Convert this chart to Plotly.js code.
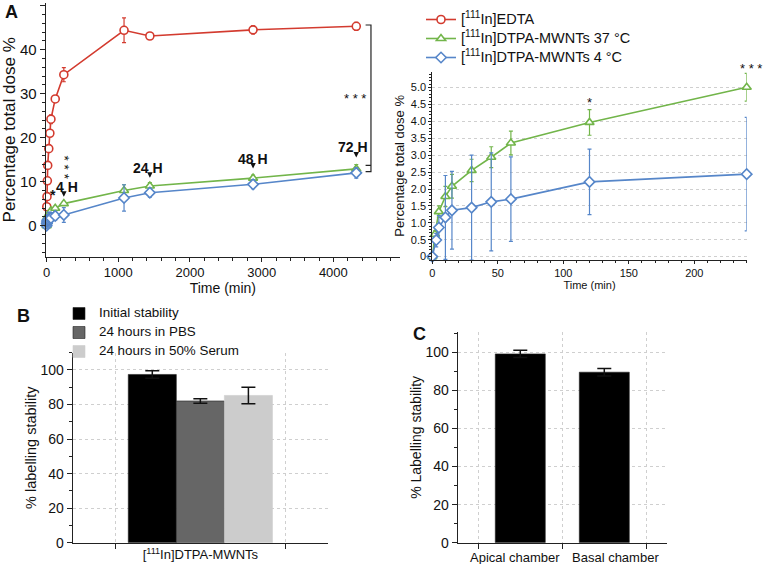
<!DOCTYPE html>
<html><head><meta charset="utf-8">
<script src="https://cdn.plot.ly/plotly-3.0.1.min.js"></script>
<style>html,body{margin:0;padding:0;background:#fff}</style>
</head><body>
<div id="chart" style="width:764px;height:564px"></div>
<script>
// ---------- Panel A data ----------
const edtaTime = [2, 5, 10, 15, 30, 45, 60, 120, 240, 1080, 1440, 2880, 4320];
const edtaVal  = [4.3, 6.6, 10.2, 13.7, 17.5, 21.0, 24.2, 28.8, 34.3, 44.4, 43.1, 44.5, 45.3];
const edtaErr  = [0.4, 0.5, 0.5, 0.5, 0.6, 0.6, 1.0, 0.6, 1.6, 2.8, 0.6, 0.9, 0.9];

const mwnt37Time = [0, 2, 5, 10, 15, 30, 45, 60, 120, 240, 1080, 1440, 2880, 4320];
const mwnt37Val  = [0, 0.66, 1.33, 1.78, 2.08, 2.55, 2.94, 3.36, 3.97, 5.01, 8.0, 9.0, 10.8, 12.9];
const mwnt37Err  = [0, 0.10, 0.17, 0.30, 0.35, 0.33, 0.31, 0.35, 0.38, 0.41, 1.3, 0.8, 0.7, 1.0];

const mwnt4Time = [0, 3, 5, 10, 15, 30, 45, 60, 120, 240, 1080, 1440, 2880, 4320];
const mwnt4Val  = [0, 0.49, 0.86, 1.16, 1.37, 1.45, 1.62, 1.70, 2.21, 2.44, 6.3, 7.5, 9.4, 12.0];
const mwnt4Err  = [0, 0.20, 0.35, 1.24, 1.15, 1.55, 1.45, 1.25, 0.97, 1.68, 3.0, 1.0, 1.0, 1.2];

const seriesNames = ['[<sup>111</sup>In]EDTA', '[<sup>111</sup>In]DTPA-MWNTs 37 °C', '[<sup>111</sup>In]DTPA-MWNTs 4 °C'];
const insetMaxTime = 240;
const insetTickVals = [0, 0.5, 1.0, 1.5, 2.0, 2.5, 3.0, 3.5, 4.0, 4.5, 5.0];
const insetTickText = ['0', '0.5', '1.0', '1.5', '2.0', '2.5', '3.0', '3.5', '4.0', '4.5', '5.0'];

// ---------- Panel B data ----------
const bCategories = ['[<sup>111</sup>In]DTPA-MWNTs'];
const bSeries = ['Initial stability', '24 hours in PBS', '24 hours in 50% Serum'];
const bValues = [97.4, 82.05, 85.25];
const bErrors = [2.2, 1.35, 4.75];

// ---------- Panel C data ----------
const cCategories = ['Apical chamber', 'Basal chamber'];
const cValues = [99.1, 89.5];
const cErrors = [1.9, 2.0];

// ---------- styles ----------
const FONT = 'Liberation Sans, Arial, Helvetica, sans-serif';
const RED = '#d33b2f', GREEN = '#72b54a', BLUE = '#5686c9';
const bColors = ['#000000', '#666666', '#cccccc'];
const cLabelShift = [-5, 11];
const W = 764, H = 564;
const fx = p => p / W;
const fy = p => 1 - p / H;
const sized = (s, px) => '<span style="font-size:' + px + 'px">' + s + '</span>';
const NB = n => '\u00a0'.repeat(n);

function sliceInset(t, v, e) {
  const idx = t.map((x, i) => i).filter(i => t[i] <= insetMaxTime);
  return { t: idx.map(i => t[i]), v: idx.map(i => v[i]), e: idx.map(i => e[i]) };
}

function lineTrace(t, v, e, color, symbol, name, xa, ya, showLeg, msize) {
  return {
    type: 'scatter', mode: 'lines+markers', x: t, y: v, name: name,
    xaxis: xa, yaxis: ya, showlegend: showLeg, legend: 'legend',
    line: { color: color, width: 1.6 },
    marker: { symbol: symbol, size: msize, color: '#ffffff', line: { color: color, width: 1.6 } },
    error_y: { type: 'data', array: e, visible: true, color: color, thickness: 1.2, width: 2 },
    cliponaxis: false
  };
}

const traces = [];
traces.push(lineTrace(edtaTime, edtaVal, edtaErr, RED, 'circle', sized(seriesNames[0], 14.5), 'x', 'y', true, 8));
traces.push(lineTrace(mwnt37Time, mwnt37Val, mwnt37Err, GREEN, 'triangle-up', sized(seriesNames[1], 14.5), 'x', 'y', true, 8));
traces.push(lineTrace(mwnt4Time, mwnt4Val, mwnt4Err, BLUE, 'diamond', sized(seriesNames[2], 14.5), 'x', 'y', true, 8));
const g2 = sliceInset(mwnt37Time, mwnt37Val, mwnt37Err);
const b2 = sliceInset(mwnt4Time, mwnt4Val, mwnt4Err);
traces.push(lineTrace(g2.t, g2.v, g2.e, GREEN, 'triangle-up', seriesNames[1], 'x2', 'y2', false, 8));
traces.push(lineTrace(b2.t, b2.v, b2.e, BLUE, 'diamond', seriesNames[2], 'x2', 'y2', false, 8));

bSeries.forEach((s, i) => {
  traces.push({
    type: 'bar', x: bCategories, y: [bValues[i]], name: sized(s, 13.4),
    xaxis: 'x3', yaxis: 'y3', legend: 'legend2', showlegend: true,
    marker: { color: bColors[i], line: { color: i === 2 ? '#cccccc' : '#222222', width: 0.6 } },
    error_y: { type: 'data', array: [bErrors[i]], visible: true, color: '#111111', thickness: 1.5, width: 7 }
  });
});

traces.push({
  type: 'bar', x: cCategories, y: cValues, xaxis: 'x4', yaxis: 'y4', showlegend: false,
  width: 0.595, offset: -0.2975,
  marker: { color: '#000000', line: { color: '#222222', width: 0.6 } },
  error_y: { type: 'data', array: cErrors, visible: true, color: '#111111', thickness: 1.5, width: 7 }
});

const AX = {
  showline: true, linecolor: '#222', linewidth: 1, ticks: 'outside', ticklen: 5, tickcolor: '#222',
  zeroline: false, showgrid: false, tickfont: { family: FONT, size: 15, color: '#111' }
};
function ax(extra) { return Object.assign({}, JSON.parse(JSON.stringify(AX)), extra); }

const layout = {
  width: W, height: H, margin: { l: 0, r: 0, t: 0, b: 0 },
  paper_bgcolor: '#ffffff', plot_bgcolor: 'rgba(0,0,0,0)',
  font: { family: FONT, color: '#111' },
  barmode: 'group', bargap: 0.153, bargroupgap: 0,
  xaxis: ax({ domain: [fx(45.7), fx(400)], range: [-13, 4930], anchor: 'y', dtick: 1000, tick0: 0, ticklen: 4,
    tickfont: { family: FONT, size: 13, color: '#111' },
    minor: { ticks: 'outside', ticklen: 3, dtick: 200, tickcolor: '#222' },
    title: { text: 'Time (min)', font: { size: 14 }, standoff: 1 } }),
  yaxis: ax({ domain: [fy(256.7), fy(3)], range: [-7.05, 50.6], anchor: 'x', dtick: 10, tick0: 0,
    minor: { ticks: 'outside', ticklen: 3, dtick: 2, tickcolor: '#222' },
    title: { text: NB(5) + 'Percentage total dose %', font: { size: 17 }, standoff: 10 } }),
  xaxis2: ax({ domain: [fx(432.3), fx(746.7)], range: [0, 240], anchor: 'y2', dtick: 50, tick0: 0, ticklen: 3,
    tickfont: { family: FONT, size: 11, color: '#111' },
    minor: { ticks: 'outside', ticklen: 2, dtick: 10, tickcolor: '#222' },
    title: { text: 'Time (min)', font: { size: 11 }, standoff: 0 } }),
  yaxis2: ax({ domain: [fy(260), fy(71.7)], range: [-0.1, 5.47], anchor: 'x2', tickmode: 'array',
    tickvals: insetTickVals, ticktext: insetTickText, ticklen: 3,
    tickfont: { family: FONT, size: 11, color: '#111' },
    showgrid: true, gridcolor: '#cfcfcf', griddash: 'dot', gridwidth: 1,
    minor: { ticks: 'outside', ticklen: 2, dtick: 0.1, tick0: 0, tickcolor: '#222' },
    title: { text: 'Percentage total dose %', font: { size: 13 }, standoff: 3 } }),
  xaxis3: ax({ domain: [fx(72.7), fx(328)], type: 'category', range: [-0.75, 0.75], anchor: 'y3',
    tickson: 'boundaries', showgrid: true, gridcolor: '#cfcfcf', griddash: 'dot', tickangle: 0,
    ticklabelstandoff: 0, tickfont: { family: FONT, size: 13, color: '#111' } }),
  yaxis3: ax({ domain: [fy(542.7), fy(352.7)], range: [0, 110], anchor: 'x3', dtick: 20, tick0: 0,
    showgrid: true, gridcolor: '#cfcfcf', griddash: 'dot', tickfont: { family: FONT, size: 14, color: '#111' },
    minor: { ticks: 'outside', ticklen: 3, dtick: 10, tickcolor: '#222' },
    title: { text: '% labelling stability', font: { size: 14.5 }, standoff: 0 } }),
  xaxis4: ax({ domain: [fx(457.7), fx(667.3)], type: 'category', range: [-0.745, 1.75], anchor: 'y4',
    tickson: 'boundaries', showgrid: true, gridcolor: '#cfcfcf', griddash: 'dot',
    showticklabels: false }),
  yaxis4: ax({ domain: [fy(542.7), fy(332)], range: [0, 110.6], anchor: 'x4', dtick: 20, tick0: 0,
    showgrid: true, gridcolor: '#cfcfcf', griddash: 'dot', tickfont: { family: FONT, size: 14, color: '#111' },
    minor: { ticks: 'outside', ticklen: 3, dtick: 10, tickcolor: '#222' },
    title: { text: '% Labelling stability' + NB(6), font: { size: 14 }, standoff: 0 } }),
  legend: { x: fx(421), y: fy(5), xanchor: 'left', yanchor: 'top', font: { family: FONT, size: 11, color: '#111' },
    bgcolor: 'rgba(0,0,0,0)', borderwidth: 0, tracegroupgap: 0 },
  legend2: { x: fx(59), y: fy(299), xanchor: 'left', yanchor: 'top', font: { family: FONT, size: 10, color: '#111' },
    bgcolor: 'rgba(0,0,0,0)', borderwidth: 0, tracegroupgap: 0 },
  shapes: [
    // significance bracket
    { type: 'path', xref: 'x', yref: 'y', path: 'M4450,45.6 L4525,45.6 L4525,12.3 L4450,12.3 M4450,13.7 L4525,13.7',
      line: { color: '#222', width: 1.2 } }
  ],
  annotations: []
};

const A = layout.annotations;
function txt(x, y, xref, yref, text, size, opts) {
  A.push(Object.assign({ x: x, y: y, xref: xref, yref: yref, text: text, showarrow: false,
    font: { family: FONT, size: size, color: '#111' } }, opts || {}));
}
function arrowDown(x, y) {
  A.push({ x: x, y: y, xref: 'x', yref: 'y', text: ' ', showarrow: true, ax: 0, ay: -4,
    arrowhead: 2, arrowsize: 1.1, arrowwidth: 1, arrowcolor: '#111', font: { size: 1 } });
}
// Panel letters
txt(fx(3), fy(12), 'paper', 'paper', '<b>A</b>', 18, { xanchor: 'left', yanchor: 'middle' });
txt(fx(15), fy(316), 'paper', 'paper', '<b>B</b>', 18, { xanchor: 'left', yanchor: 'middle' });
txt(fx(411), fy(334), 'paper', 'paper', '<b>C</b>', 18, { xanchor: 'left', yanchor: 'middle' });
// C category labels
cCategories.forEach((c, i) => {
  txt(c, 0, 'x4', 'y4', c, 13, { yanchor: 'top', xanchor: 'center', yshift: -5, xshift: cLabelShift[i] });
});
// time labels
txt(284, 8.8, 'x', 'y', '<b>4 H</b>', 14, { borderpad: 0 });
txt(1413, 13.1, 'x', 'y', '<b>24 H</b>', 14);
txt(2879, 15.2, 'x', 'y', '<b>48 H</b>', 14);
txt(4275, 17.9, 'x', 'y', '<b>72 H</b>', 14);
arrowDown(240, 6.6); arrowDown(1440, 10.9); arrowDown(2880, 13.0); arrowDown(4320, 15.5);
// stars
txt(88, 7.0, 'x', 'y', '<b>*</b>', 14, { borderpad: 0 });
txt(262, 13.1, 'x', 'y', '* * *', 13.5, { textangle: 90 });
txt(4302, 28.8, 'x', 'y', '* * *', 13);
txt(120, 4.55, 'x2', 'y2', '*', 13);
txt(fx(751), fy(68.5), 'paper', 'paper', '* * *', 13, { xanchor: 'center', yanchor: 'middle' });

Plotly.newPlot('chart', traces, layout, { staticPlot: true, displayModeBar: false });
</script>
</body></html>
